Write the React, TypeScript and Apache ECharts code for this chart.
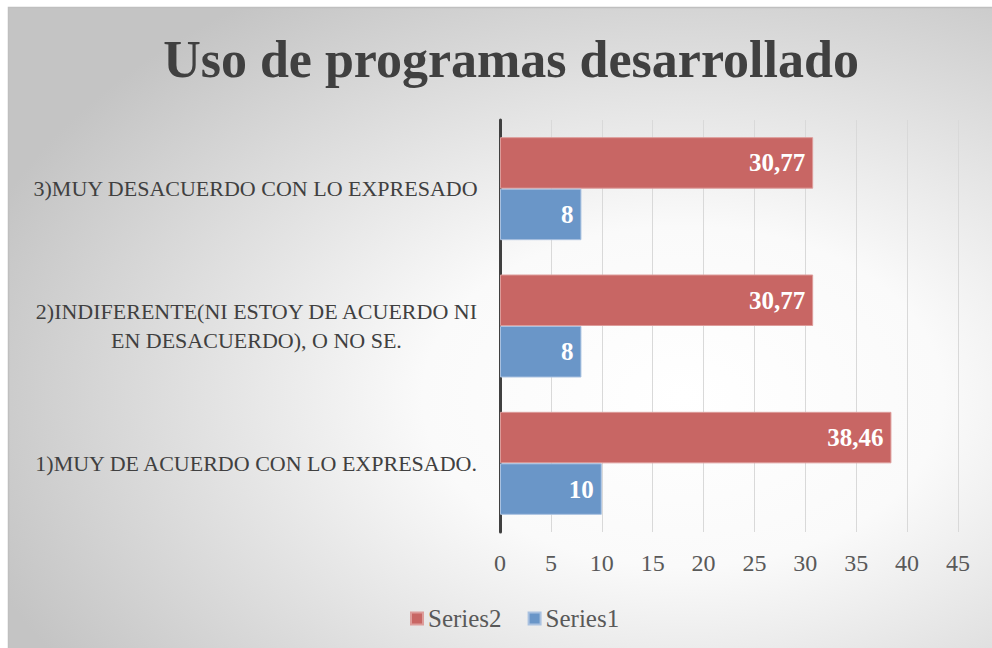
import React, { useEffect, useRef } from "react";
import * as echarts from "echarts";

const categories = [
  "1)MUY DE ACUERDO CON LO EXPRESADO.",
  "2)INDIFERENTE(NI ESTOY DE ACUERDO NI\nEN DESACUERDO), O NO SE.",
  "3)MUY DESACUERDO CON LO EXPRESADO",
];
const series1 = [10, 8, 8];
const series2 = [38.46, 30.77, 30.77];
const titleText = "Uso de programas desarrollado";
const FONT = "'Liberation Serif', serif";

export default function App() {
  const ref = useRef<HTMLDivElement>(null);
  useEffect(() => {
    const chart = echarts.init(ref.current!, null, { renderer: "svg" });
    const fmt = (p: any) => String(p.value).replace(".", ",");
    const label = {
      show: true,
      position: "insideRight",
      distance: 8,
      formatter: fmt,
      fontFamily: FONT,
      fontWeight: "bold",
      fontSize: 25,
      color: "#ffffff",
    };
    chart.setOption({
      animation: false,
      graphic: [
        {
          type: "rect",
          z: -10,
          shape: { x: 8.5, y: 7.5, width: 992, height: 648 },
          style: {
            fill: {
              type: "radial",
              x: 0.68,
              y: 0.6,
              r: 0.75,
              colorStops: [
                { offset: 0, color: "#ffffff" },
                { offset: 0.35, color: "#fafafa" },
                { offset: 1, color: "#c4c4c4" },
              ],
            },
            stroke: "#bfbfbf",
            lineWidth: 1.5,
          },
          silent: true,
        },
      ],
      title: {
        text: titleText,
        left: 506,
        textAlign: "center",
        top: 28,
        textStyle: {
          fontFamily: FONT,
          fontWeight: "bold",
          fontSize: 52,
          color: "#404040",
        },
      },
      legend: {
        data: ["Series2", "Series1"],
        left: 405,
        top: 601,
        itemWidth: 12,
        itemHeight: 12,
        itemGap: 26,
        icon: "rect",
        textStyle: { fontFamily: FONT, fontSize: 25, color: "#595959" },
      },
      grid: { left: 500, right: 34, top: 120, bottom: 116, containLabel: false },
      xAxis: {
        type: "value",
        min: 0,
        max: 45,
        interval: 5,
        axisLine: { show: false },
        axisTick: { show: false },
        splitLine: { lineStyle: { color: "#d9d9d9", width: 1 } },
        axisLabel: { fontFamily: FONT, fontSize: 24, color: "#595959", margin: 19 },
      },
      yAxis: {
        type: "category",
        data: categories,
        axisLine: { lineStyle: { color: "#404040", width: 3 } },
        axisTick: { show: false },
        axisLabel: {
          margin: 22,
          formatter: (v: string) =>
            v
              .split("\n")
              .map((l) => "{a|" + l + "}")
              .join("\n"),
          rich: {
            a: {
              fontFamily: FONT,
              fontSize: 22,
              color: "#404040",
              align: "center",
              lineHeight: 29,
            },
          },
        },
      },
      series: [
        {
          name: "Series2",
          type: "bar",
          data: series2,
          barGap: "0%",
          barCategoryGap: "25%",
          itemStyle: { color: "#C86664", borderColor: "#dd9c9a", borderWidth: 1 },
          label,
        },
        {
          name: "Series1",
          type: "bar",
          data: series1,
          barGap: "0%",
          barCategoryGap: "25%",
          itemStyle: { color: "#6A96C8", borderColor: "#a9c1e0", borderWidth: 1 },
          label,
        },
      ],
    });
    return () => chart.dispose();
  }, []);
  return (
    <div
      ref={ref}
      style={{ position: "absolute", left: 0, top: 0, width: 992, height: 648 }}
    />
  );
}
